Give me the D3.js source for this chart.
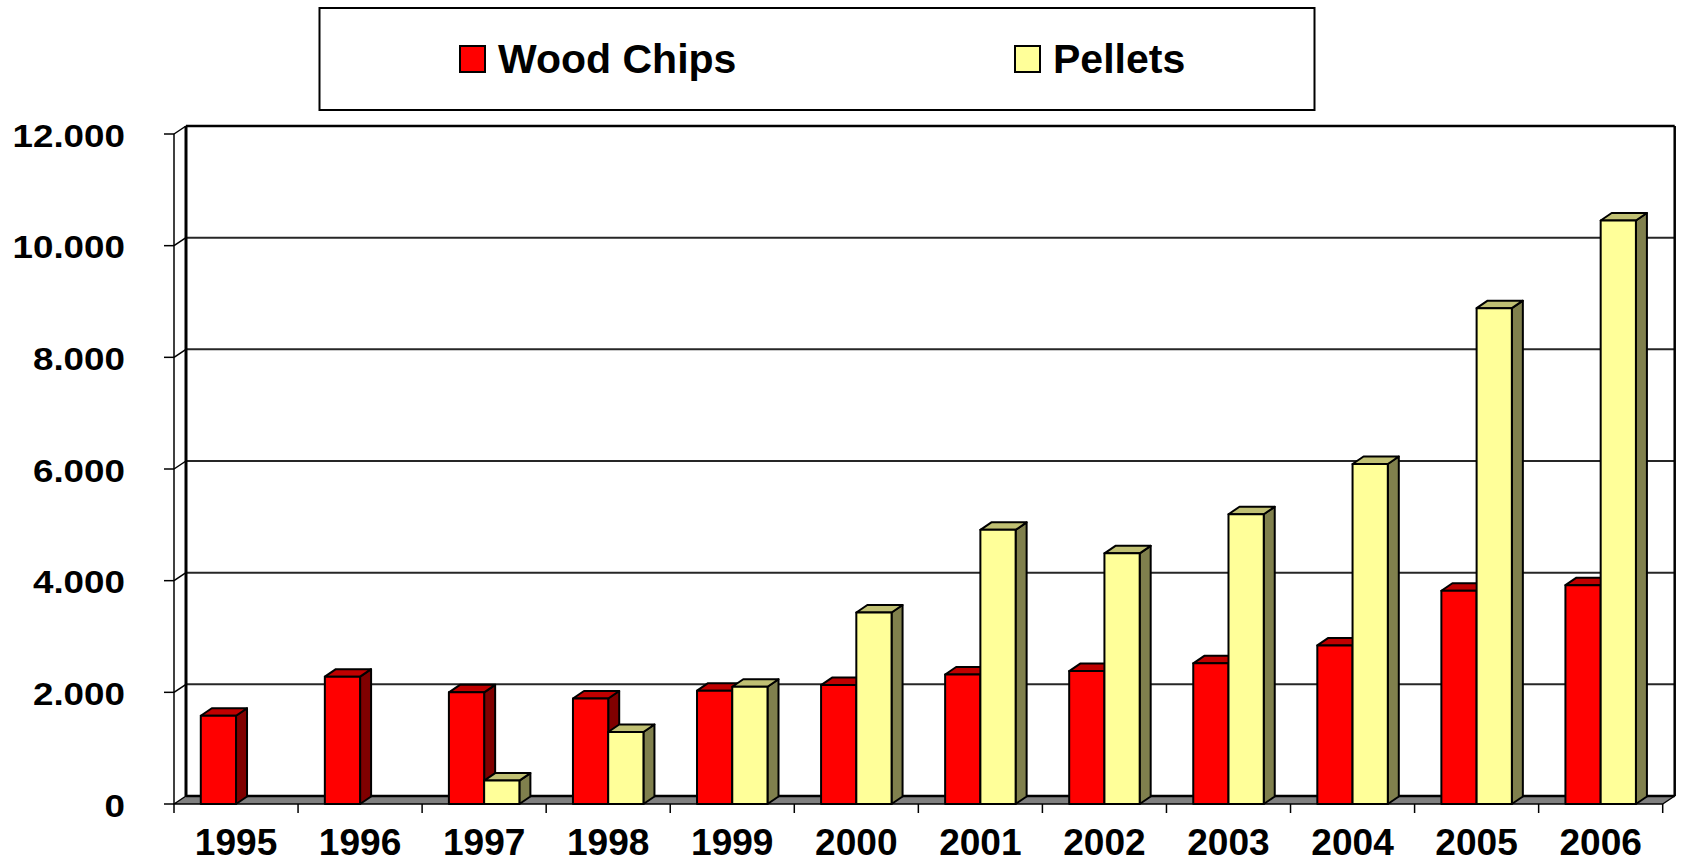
<!DOCTYPE html>
<html>
<head>
<meta charset="utf-8">
<script src="https://cdn.jsdelivr.net/npm/d3@7"></script>
<style>
  html, body { margin: 0; padding: 0; background: #fff; }
  svg { display: block; }
  text { font-family: "Liberation Sans", Arial, sans-serif; font-weight: bold; fill: #000; }
</style>
</head>
<body>
<svg id="chart" width="1681" height="863"></svg>
<script>
const categories = ["1995","1996","1997","1998","1999","2000","2001","2002","2003","2004","2005","2006"];
const woodChips = [1580, 2280, 2000, 1890, 2030, 2130, 2320, 2380, 2520, 2840, 3820, 3920];
const pellets   = [null, null, 420, 1290, 2100, 3430, 4910, 4490, 5190, 6090, 8880, 10450];
const seriesNames = ["Wood Chips", "Pellets"];
const yTicks = [0, 2000, 4000, 6000, 8000, 10000, 12000];
const yTickLabels = ["0", "2.000", "4.000", "6.000", "8.000", "10.000", "12.000"];

const colors = {
  "Wood Chips": { front: "#FF0000", top: "#C00000", side: "#800000" },
  "Pellets":    { front: "#FFFF99", top: "#C0C073", side: "#80804D" }
};

const svg = d3.select("#chart");
const DX = 12, DY = -8;          // wall depth
const BDX = 11, BDY = -7.5;      // bar depth

const x = d3.scaleBand().domain(categories).range([174, 1662.7]).padding(0);
const xs = d3.scaleBand().domain(seriesNames).range([0, x.bandwidth()]).paddingInner(0).paddingOuter(0.76);
const y = d3.scaleLinear().domain([0, 12000]).range([804, 134]);

const x0 = x.range()[0], x1 = x.range()[1];
const yTop = y(12000), yBot = y(0);

// Back wall gridlines
const g = svg.append("g");
yTicks.filter(v => v > 0).forEach(v => {
  g.append("line")
    .attr("x1", x0 + DX).attr("x2", x1 + DX)
    .attr("y1", y(v) + DY).attr("y2", y(v) + DY)
    .attr("stroke", "#000").attr("stroke-width", v === 12000 ? 2.5 : 2).attr("stroke-opacity", v === 12000 ? 1 : 0.85);
  // side-wall diagonal
  g.append("line")
    .attr("x1", x0).attr("x2", x0 + DX)
    .attr("y1", y(v)).attr("y2", y(v) + DY)
    .attr("stroke", "#000").attr("stroke-width", 1.5);
});
// back wall left & right verticals
g.append("line").attr("x1", x0 + DX).attr("x2", x0 + DX).attr("y1", yTop + DY).attr("y2", yBot + DY)
  .attr("stroke", "#000").attr("stroke-width", 3);
g.append("line").attr("x1", x1 + DX).attr("x2", x1 + DX).attr("y1", yTop + DY).attr("y2", yBot + DY)
  .attr("stroke", "#000").attr("stroke-width", 2.5);
// front vertical axis line
g.append("line").attr("x1", x0).attr("x2", x0).attr("y1", yTop).attr("y2", yBot)
  .attr("stroke", "#000").attr("stroke-width", 1.5);

// Floor
g.append("path")
  .attr("d", `M${x0},${yBot} L${x1},${yBot} L${x1 + DX},${yBot + DY} L${x0 + DX},${yBot + DY} Z`)
  .attr("fill", "#808080").attr("stroke", "#000").attr("stroke-width", 1.5).attr("stroke-linejoin", "round");
g.append("line").attr("x1", x0 + DX).attr("x2", x1 + DX).attr("y1", yBot + DY).attr("y2", yBot + DY)
  .attr("stroke", "#000").attr("stroke-width", 2.5);

// Y ticks & labels
yTicks.forEach((v, i) => {
  g.append("line").attr("x1", x0 - 10).attr("x2", x0).attr("y1", y(v)).attr("y2", y(v))
    .attr("stroke", "#000").attr("stroke-width", 1.5);
  const tx = 125, ty = y(v) + 12.5;
  g.append("text")
    .attr("text-anchor", "end")
    .attr("font-size", 32)
    .attr("transform", `translate(${tx},${ty}) scale(1.15,1)`)
    .text(yTickLabels[i]);
});

// X ticks & labels
categories.concat(["_end"]).forEach((c, i) => {
  const px = x0 + i * x.step();
  g.append("line").attr("x1", px).attr("x2", px).attr("y1", yBot).attr("y2", yBot + 9)
    .attr("stroke", "#000").attr("stroke-width", 1.5);
});
categories.forEach(c => {
  g.append("text")
    .attr("x", x(c) + x.bandwidth() / 2)
    .attr("y", 855)
    .attr("text-anchor", "middle")
    .attr("font-size", 36)
    .attr("transform", `translate(${x(c) + x.bandwidth() / 2},0) scale(1.03,1) translate(${-(x(c) + x.bandwidth() / 2)},0)`)
    .text(c);
});

// Bars
const bars = svg.append("g");
categories.forEach((c, i) => {
  [["Wood Chips", woodChips[i]], ["Pellets", pellets[i]]].forEach(([s, v]) => {
    if (v == null) return;
    const bx = x(c) + xs(s), bw = xs.bandwidth();
    const by = y(v), bb = y(0);
    const col = colors[s];
    const bg = bars.append("g").attr("stroke", "#000").attr("stroke-width", 2).attr("stroke-linejoin", "round");
    // side
    bg.append("path")
      .attr("d", `M${bx + bw},${bb} L${bx + bw + BDX},${bb + BDY} L${bx + bw + BDX},${by + BDY} L${bx + bw},${by} Z`)
      .attr("fill", col.side);
    // top
    bg.append("path")
      .attr("d", `M${bx},${by} L${bx + BDX},${by + BDY} L${bx + bw + BDX},${by + BDY} L${bx + bw},${by} Z`)
      .attr("fill", col.top);
    // front
    bg.append("rect")
      .attr("x", bx).attr("y", by).attr("width", bw).attr("height", bb - by)
      .attr("fill", col.front);
  });
});

// Legend
const lg = svg.append("g");
lg.append("rect").attr("x", 319.5).attr("y", 8).attr("width", 995).attr("height", 102)
  .attr("fill", "#fff").attr("stroke", "#000").attr("stroke-width", 2);
const legendItems = [
  { name: "Wood Chips", sx: 460, tx: 498 },
  { name: "Pellets", sx: 1015, tx: 1053 }
];
legendItems.forEach(it => {
  lg.append("rect").attr("x", it.sx).attr("y", 46).attr("width", 25).attr("height", 26)
    .attr("fill", colors[it.name].front).attr("stroke", "#000").attr("stroke-width", 2);
  lg.append("text").attr("x", it.tx).attr("y", 73).attr("font-size", 41).text(it.name);
});
</script>
</body>
</html>
